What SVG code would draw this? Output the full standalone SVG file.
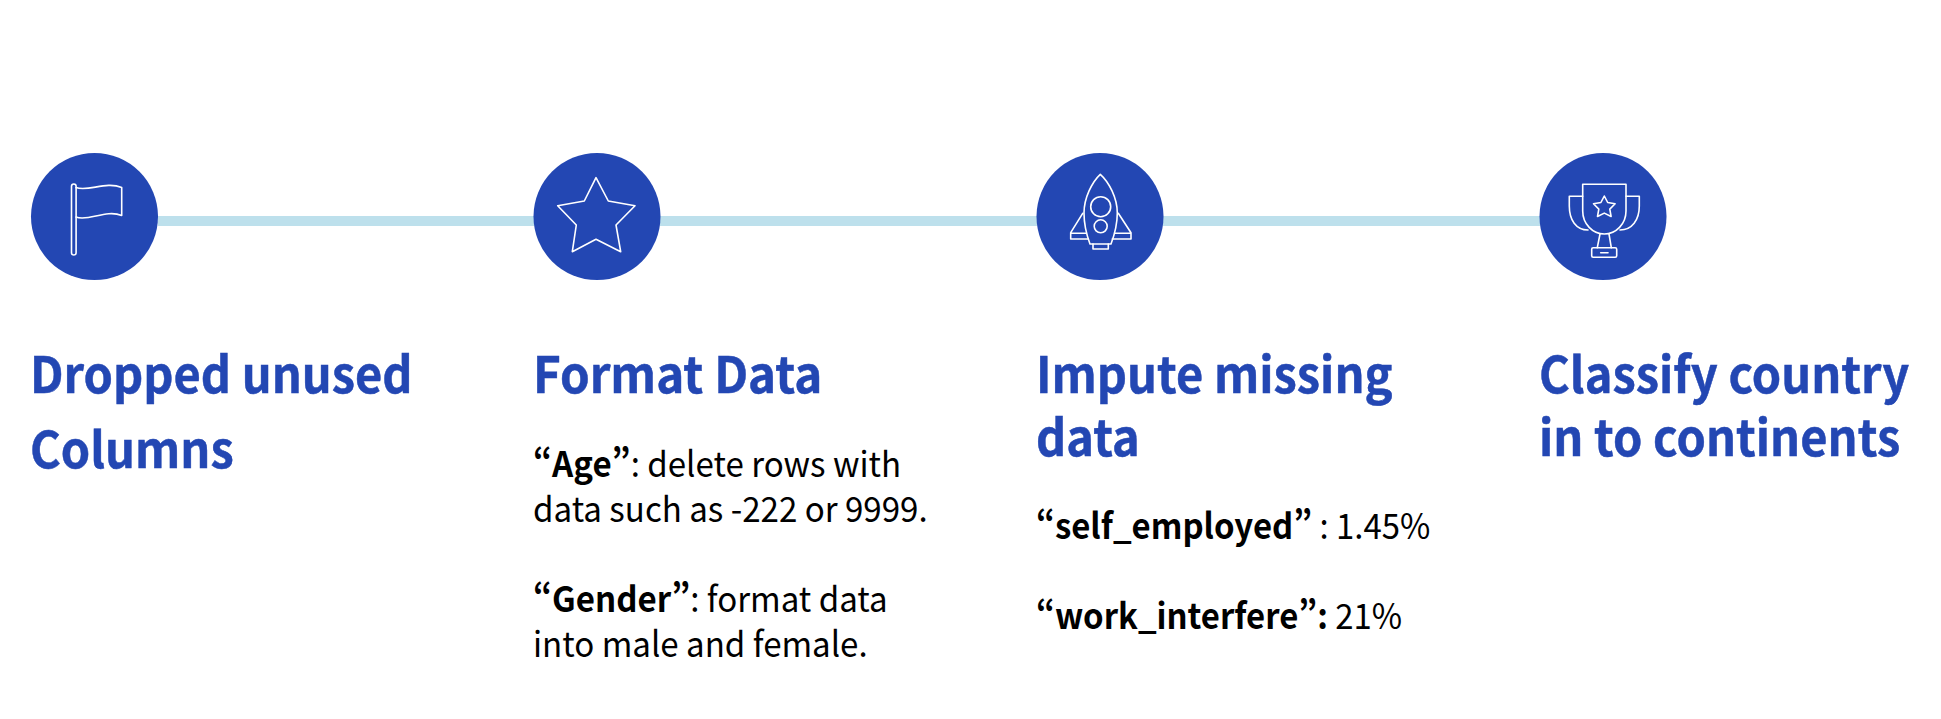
<svg xmlns="http://www.w3.org/2000/svg" width="1941" height="719" viewBox="0 0 1941 719">
<style>
text{font-family:"Noto Sans CJK SC","Noto Sans",sans-serif;font-variant-east-asian:proportional-width}
.t{font-size:49.5px;font-weight:700;fill:#2347b3;stroke:#2347b3;stroke-width:.5}
.b{font-size:35px;font-weight:400;fill:#000}
.b tspan{font-weight:700}
.c{fill:#2347b3}
.i{fill:none;stroke:#fff;stroke-width:1.6;stroke-linejoin:round;stroke-linecap:round}
.l{stroke:#bde0ec;stroke-width:10;fill:none}
</style>
<rect width="1941" height="719" fill="#fff"/>
<g id="connectors">
<line class="l" x1="158" y1="221" x2="534" y2="221"/>
<line class="l" x1="660" y1="221" x2="1037" y2="221"/>
<line class="l" x1="1163" y1="221" x2="1540" y2="221"/>
</g>
<g id="node1">
<circle class="c" cx="94.5" cy="216.5" r="63.5"/>
<g class="i">
<rect x="71.5" y="184" width="4.6" height="71" rx="2.3"/>
<path d="M76 187.5C88 192 106 181 121.7 187.5V215.5C106 209 88 222 76 217"/>
</g>
<text class="t" transform="matrix(.95 0 0 1 30 393)">Dropped unused</text>
<text class="t" transform="matrix(.95 0 0 1 30 468)">Columns</text>
</g>
<g id="node2">
<circle class="c" cx="597" cy="216.5" r="63.5"/>
<path class="i" d="M596 177.7L608.3 201L635 205.7L616 225L620.7 251.7L596 239.3L572.3 251.7L576.3 225L557.7 205.7L584.3 201Z"/>
<text class="t" transform="matrix(.96 0 0 1 533 393)">Format Data</text>
<text class="b" transform="matrix(.945 0 0 1 533 477)"><tspan>“Age”</tspan>: delete rows with</text>
<text class="b" transform="matrix(.945 0 0 1 533 522)">data such as -222 or 9999.</text>
<text class="b" transform="matrix(.945 0 0 1 533 612)"><tspan>“Gender”</tspan>: format data</text>
<text class="b" transform="matrix(.945 0 0 1 533 657)">into male and female.</text>
</g>
<g id="node3">
<circle class="c" cx="1100" cy="216.5" r="63.5"/>
<g class="i">
<path d="M1100.3 174.3C1092 182 1084 198 1084 213C1084 224 1087 236 1090 244H1111C1114 236 1117.3 224 1117.3 213C1117.3 198 1109 182 1100.3 174.3Z"/>
<circle cx="1100.7" cy="206.7" r="10"/>
<circle cx="1100.7" cy="226.3" r="6.5"/>
<path d="M1082.7 213.3L1070.7 232.7V239H1088.3M1070.7 233.3H1086"/>
<path d="M1118.3 213.3L1131 232.7V239H1112.3M1131 233.3H1115"/>
<path d="M1093 244V249H1108.3V244"/>
</g>
<text class="t" transform="matrix(.95 0 0 1 1036 393)">Impute missing</text>
<text class="t" transform="matrix(.95 0 0 1 1036 456)">data</text>
<text class="b" transform="matrix(.94 0 0 1 1036 539)"><tspan>“self_employed”</tspan> : 1.45%</text>
<text class="b" transform="matrix(.94 0 0 1 1036 629)"><tspan>“work_interfere”:</tspan> 21%</text>
</g>
<g id="node4">
<circle class="c" cx="1603" cy="216.5" r="63.5"/>
<g class="i">
<path d="M1582.7 184.3H1626V211C1626 224 1616 234 1604.3 234C1592.7 234 1582.7 224 1582.7 211Z"/>
<path d="M1582.7 196.3H1569.3V206C1569.3 220 1576 230 1588 230M1626 196.3H1639.3V206C1639.3 220 1632 230 1620 230"/>
<path d="M1600 234L1597.3 247.7M1609 234L1611.3 247.7"/>
<rect x="1591.7" y="247.7" width="25" height="9.6" rx="1.5"/>
<path d="M1600.7 252.7H1608"/>
<path d="M1604.3 196L1607.7 202.5L1615.1 203.8L1609.8 209.1L1611.1 216.5L1604.3 213.1L1597.5 216.5L1598.8 209.1L1593.5 203.8L1600.9 202.5Z"/>
</g>
<text class="t" transform="matrix(.95 0 0 1 1539 393)">Classify country</text>
<text class="t" transform="matrix(.95 0 0 1 1539 456)">in to continents</text>
</g>
</svg>
